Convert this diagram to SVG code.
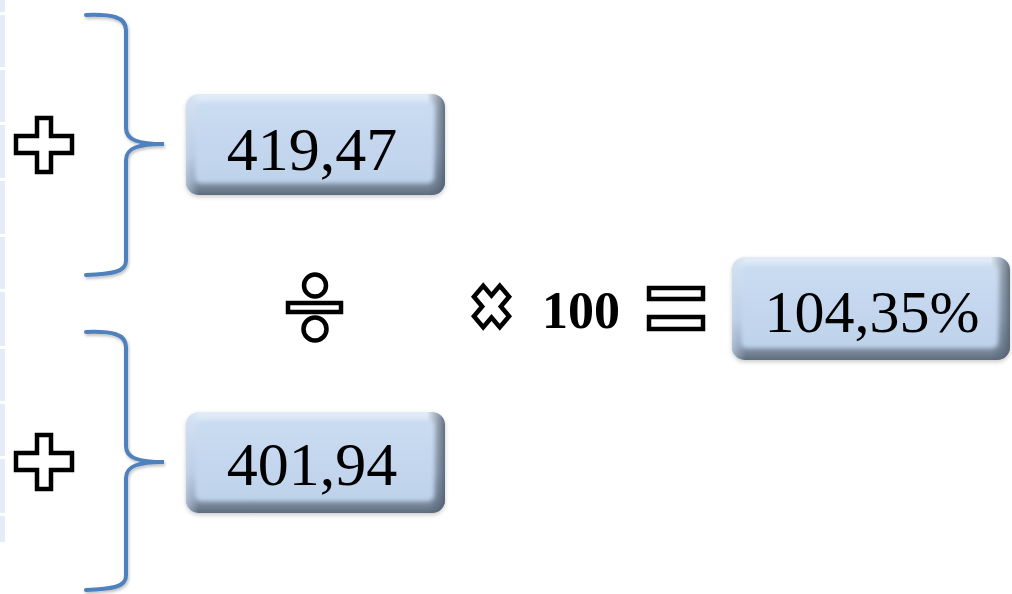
<svg xmlns="http://www.w3.org/2000/svg" width="1012" height="594" viewBox="0 0 1012 594">
<style>
.brace{fill:none;stroke:#4f81bd;stroke-width:4;stroke-linecap:round;filter:url(#sh)}
.sym{fill:#fff;stroke:#000;stroke-width:4.5}
.num{font-family:"Liberation Serif","Times New Roman",serif;font-size:62px;fill:#000;text-anchor:middle}
.bold{font-family:"Liberation Serif","Times New Roman",serif;font-size:52px;font-weight:bold;fill:#000}
.strip{fill:#e6ecf5}
</style>
<defs>
<linearGradient id="outer" x1="0" y1="0" x2="0" y2="1">
<stop offset="0" stop-color="#e2ecf8"/>
<stop offset="0.6" stop-color="#b8cbe2"/>
<stop offset="0.86" stop-color="#8a9bb0"/>
<stop offset="1" stop-color="#5e6c7c"/>
</linearGradient>
<linearGradient id="side" x1="0" y1="0" x2="1" y2="0">
<stop offset="0" stop-color="#c8daf0" stop-opacity="0.6"/>
<stop offset="0.05" stop-color="#b8cbe2" stop-opacity="0"/>
<stop offset="0.93" stop-color="#5d6b7c" stop-opacity="0"/>
<stop offset="1" stop-color="#4e5b6b" stop-opacity="0.85"/>
</linearGradient>
<linearGradient id="face" x1="0" y1="0" x2="0" y2="1">
<stop offset="0" stop-color="#cadcf2"/>
<stop offset="1" stop-color="#bed2ea"/>
</linearGradient>
<filter id="blur" x="-10%" y="-10%" width="120%" height="120%"><feGaussianBlur stdDeviation="2"/></filter>
<filter id="sh" x="-20%" y="-20%" width="140%" height="140%">
<feDropShadow dx="1" dy="2" stdDeviation="1.5" flood-color="#000" flood-opacity="0.25"/>
</filter>
<filter id="boxsh" x="-10%" y="-10%" width="120%" height="130%">
<feDropShadow dx="0" dy="2" stdDeviation="2" flood-color="#000" flood-opacity="0.2"/>
</filter>
</defs>
<rect width="1012" height="594" fill="#fff"/>
<g id="strips">
<rect class="strip" x="0" y="0" width="5" height="12"/>
<rect class="strip" x="0" y="15" width="5" height="52"/>
<rect class="strip" x="0" y="70" width="5" height="52"/>
<rect class="strip" x="0" y="125" width="5" height="53"/>
<rect class="strip" x="0" y="181" width="5" height="53"/>
<rect class="strip" x="0" y="237" width="5" height="52"/>
<rect class="strip" x="0" y="292" width="5" height="54"/>
<rect class="strip" x="0" y="349" width="5" height="52"/>
<rect class="strip" x="0" y="404" width="5" height="52"/>
<rect class="strip" x="0" y="459" width="5" height="54"/>
<rect class="strip" x="0" y="516" width="5" height="26"/>
</g>
<g id="connectors">
<path class="brace" d="M86,15 C112,14 126,17 126,30 L126,128 C126,140 138,144 164,144 C138,144 126,148 126,160 L126,261 C126,272 112,274 86,275"/>
<path class="brace" d="M86,332 C112,331 126,334 126,347 L126,446 C126,458 138,462 164,462 C138,462 126,466 126,478 L126,576 C126,587 112,589 86,590"/>
</g>
<g id="plus1"><path class="sym" d="M37,118 H51 V136 H72 V153 H51 V172 H37 V153 H16 V136 H37 Z"/></g>
<g id="plus2"><path class="sym" d="M37,435 H51 V453 H72 V470 H51 V489 H37 V470 H16 V453 H37 Z"/></g>
<g id="box1" filter="url(#boxsh)">
<rect x="186" y="94" width="259" height="101" rx="13" fill="url(#outer)"/>
<rect x="186" y="94" width="259" height="101" rx="13" fill="url(#side)"/>
<rect x="195" y="102" width="239" height="81" rx="6" fill="url(#face)" filter="url(#blur)"/>
<text class="num" x="312" y="170">419,47</text>
</g>
<g id="box2" filter="url(#boxsh)">
<rect x="186" y="412" width="259" height="101" rx="13" fill="url(#outer)"/>
<rect x="186" y="412" width="259" height="101" rx="13" fill="url(#side)"/>
<rect x="195" y="420" width="239" height="81" rx="6" fill="url(#face)" filter="url(#blur)"/>
<text class="num" x="312" y="485">401,94</text>
</g>
<g id="box3" filter="url(#boxsh)">
<rect x="732" y="257" width="278" height="103" rx="13" fill="url(#outer)"/>
<rect x="732" y="257" width="278" height="103" rx="13" fill="url(#side)"/>
<rect x="741" y="265" width="257" height="83" rx="6" fill="url(#face)" filter="url(#blur)"/>
<text class="num" x="872" y="332" style="font-size:60px">104,35%</text>
</g>
<g id="divide">
<circle class="sym" cx="315" cy="285.5" r="11"/>
<circle class="sym" cx="315" cy="329" r="11.5"/>
<rect class="sym" x="288" y="303" width="53" height="9"/>
</g>
<g id="times">
<path class="sym" vector-effect="non-scaling-stroke" transform="translate(491.5,306.5) scale(18.3,21.5) rotate(45)" d="M-0.36,-1 H0.36 V-0.36 H1 V0.36 H0.36 V1 H-0.36 V0.36 H-1 V-0.36 H-0.36 Z"/>
</g>
<g id="hundred"><text class="bold" x="542" y="328">100</text></g>
<g id="equals">
<rect class="sym" x="649" y="288" width="54" height="11"/>
<rect class="sym" x="649" y="317" width="54" height="12"/>
</g>
</svg>
